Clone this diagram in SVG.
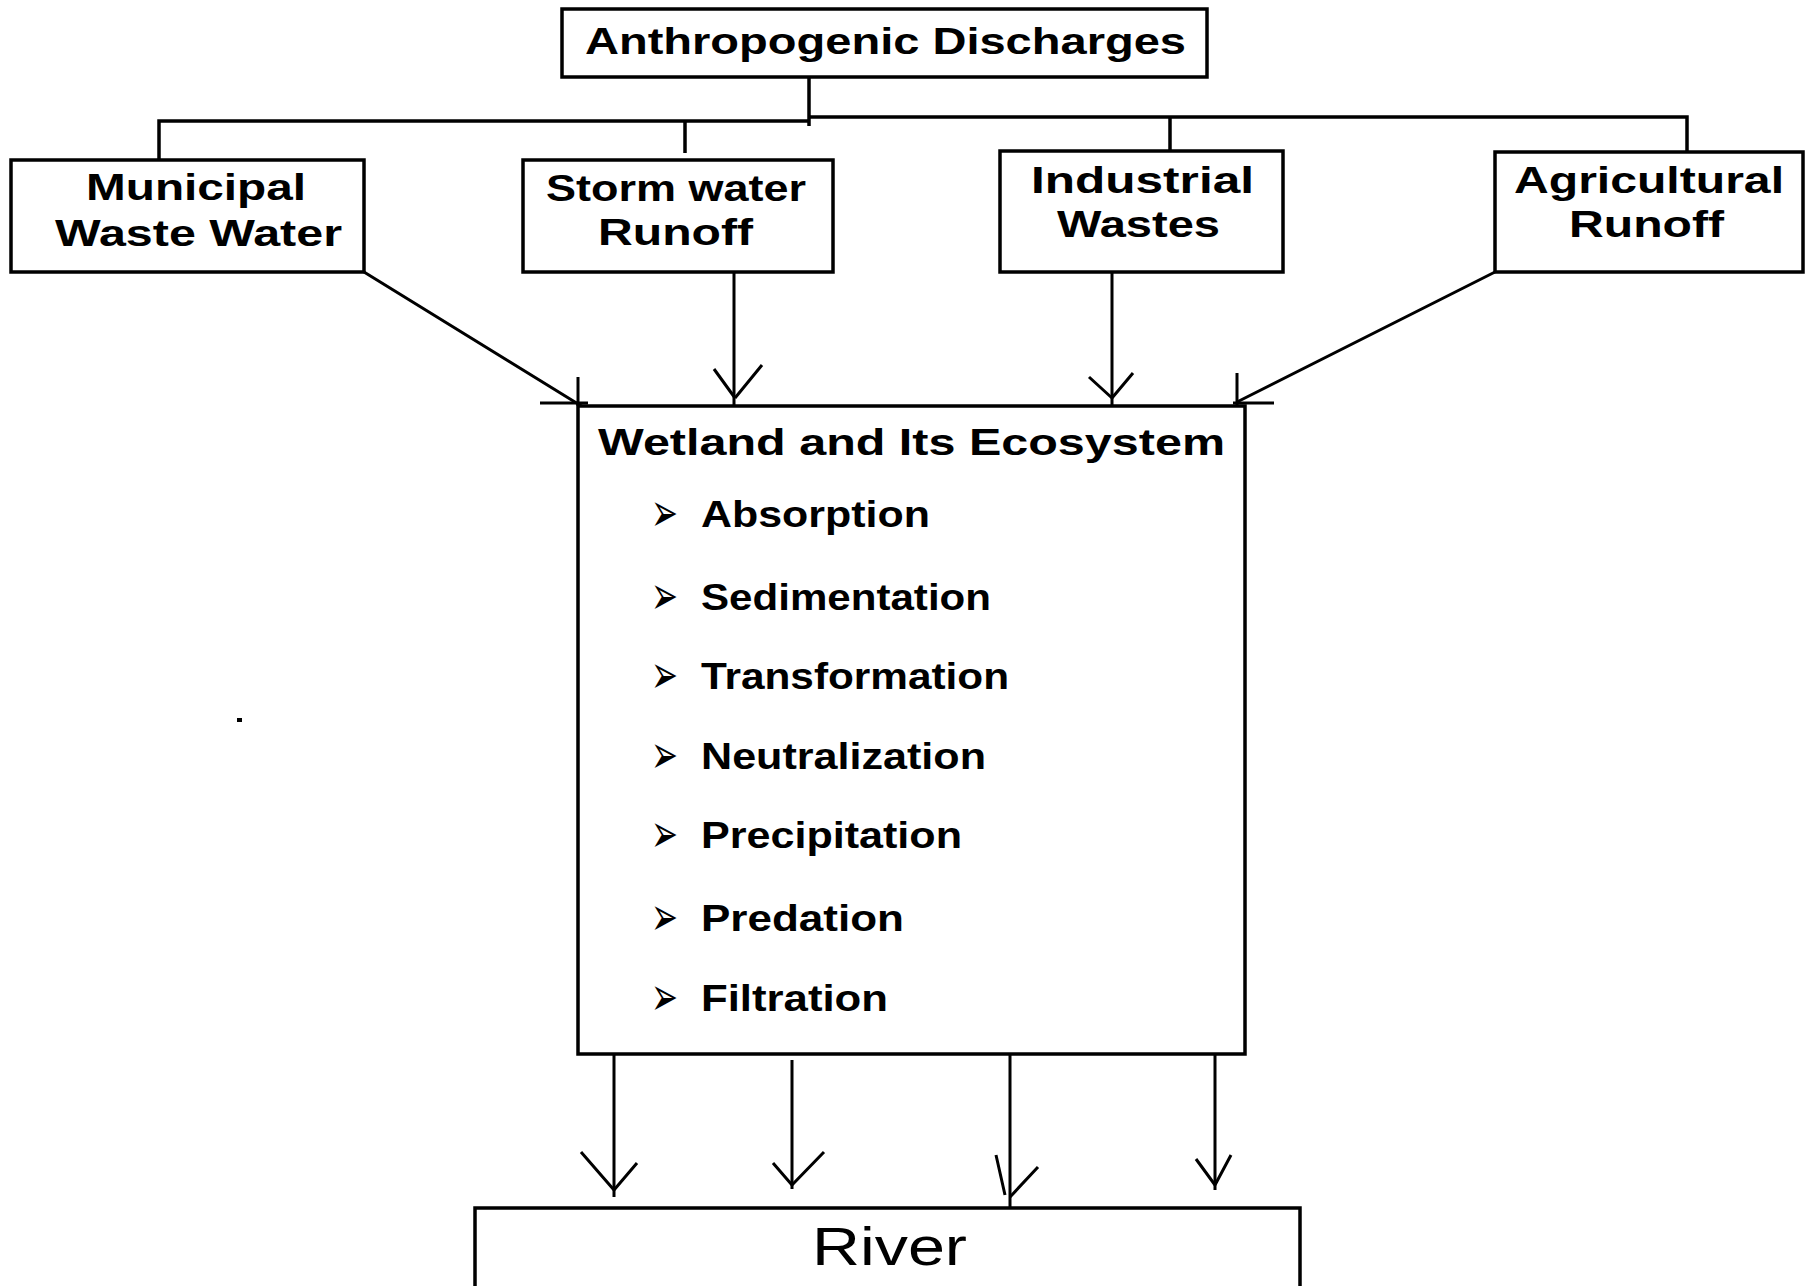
<svg xmlns="http://www.w3.org/2000/svg" width="1812" height="1286" viewBox="0 0 1812 1286">
<style>
.box{fill:#fff;stroke:#000;stroke-width:3.5}
.lbl{font-family:"Liberation Sans",Arial,sans-serif;font-weight:bold;font-size:36px;fill:#000}
.item{font-family:"Liberation Sans",Arial,sans-serif;font-weight:bold;font-size:36px;fill:#000}
.bul{font-family:"DejaVu Sans",sans-serif;font-size:54px;fill:#000}
.riv{font-family:"Liberation Sans",Arial,sans-serif;font-size:54px;fill:#000}
.ln{fill:none;stroke:#000;stroke-width:3.5}
.ar{fill:none;stroke:#000;stroke-width:3}
.hd{fill:none;stroke:#000;stroke-width:3}
</style>
<rect width="1812" height="1286" fill="#fff"/>
<g id="connectors">
<path class="ln" d="M809,77V126M159,160V121H809M685,121V153M809,117H1687V157M1170,117V151"/>
<path class="ar" d="M364,272L583,407M734,272V405M1112,267V405M1495,272L1237,402"/>
<path class="hd" d="M540,403H588M578,377V406M714,369L735,398M762,365L735,398M1089,377L1112,398M1133,373L1112,398M1237,373V412M1233,403H1274"/>
<path class="ar" d="M614,1054V1197M792,1060V1189M1010,1054V1207M1215,1054V1190"/>
<path class="hd" d="M581,1152L614,1190M637,1163L614,1190M773,1163L792,1185M824,1152L792,1185M996,1155L1005,1195M1038,1167L1010,1197M1196,1159L1215,1185M1231,1155L1215,1185"/>
</g>
<g id="anthropogenic">
<rect class="box" x="562" y="9" width="645" height="68"/>
<text class="lbl" x="585" y="54" textLength="601" lengthAdjust="spacingAndGlyphs">Anthropogenic Discharges</text>
</g>
<g id="municipal">
<rect class="box" x="11" y="160" width="353" height="112"/>
<text class="lbl" x="86" y="200" textLength="220" lengthAdjust="spacingAndGlyphs">Municipal</text>
<text class="lbl" x="55" y="246" textLength="287" lengthAdjust="spacingAndGlyphs">Waste Water</text>
</g>
<g id="stormwater">
<rect class="box" x="523" y="160" width="310" height="112"/>
<text class="lbl" x="546" y="201" textLength="260" lengthAdjust="spacingAndGlyphs">Storm water</text>
<text class="lbl" x="598" y="245" textLength="155" lengthAdjust="spacingAndGlyphs">Runoff</text>
</g>
<g id="industrial">
<rect class="box" x="1000" y="151" width="283" height="121"/>
<text class="lbl" x="1031" y="193" textLength="223" lengthAdjust="spacingAndGlyphs">Industrial</text>
<text class="lbl" x="1057" y="237" textLength="163" lengthAdjust="spacingAndGlyphs">Wastes</text>
</g>
<g id="agricultural">
<rect class="box" x="1495" y="152" width="308" height="120"/>
<text class="lbl" x="1514" y="193" textLength="270" lengthAdjust="spacingAndGlyphs">Agricultural</text>
<text class="lbl" x="1569" y="237" textLength="155" lengthAdjust="spacingAndGlyphs">Runoff</text>
</g>
<g id="wetland">
<rect class="box" x="578" y="406" width="667" height="648"/>
<text class="lbl" x="598" y="455" textLength="627" lengthAdjust="spacingAndGlyphs">Wetland and Its Ecosystem</text>
<text class="bul" x="651" y="531" textLength="27" lengthAdjust="spacingAndGlyphs">➢</text>
<text class="item" x="701" y="527" textLength="229" lengthAdjust="spacingAndGlyphs">Absorption</text>
<text class="bul" x="651" y="614" textLength="27" lengthAdjust="spacingAndGlyphs">➢</text>
<text class="item" x="701" y="610" textLength="290" lengthAdjust="spacingAndGlyphs">Sedimentation</text>
<text class="bul" x="651" y="693" textLength="27" lengthAdjust="spacingAndGlyphs">➢</text>
<text class="item" x="701" y="689" textLength="308" lengthAdjust="spacingAndGlyphs">Transformation</text>
<text class="bul" x="651" y="773" textLength="27" lengthAdjust="spacingAndGlyphs">➢</text>
<text class="item" x="701" y="769" textLength="285" lengthAdjust="spacingAndGlyphs">Neutralization</text>
<text class="bul" x="651" y="852" textLength="27" lengthAdjust="spacingAndGlyphs">➢</text>
<text class="item" x="701" y="848" textLength="261" lengthAdjust="spacingAndGlyphs">Precipitation</text>
<text class="bul" x="651" y="935" textLength="27" lengthAdjust="spacingAndGlyphs">➢</text>
<text class="item" x="701" y="931" textLength="203" lengthAdjust="spacingAndGlyphs">Predation</text>
<text class="bul" x="651" y="1015" textLength="27" lengthAdjust="spacingAndGlyphs">➢</text>
<text class="item" x="701" y="1011" textLength="187" lengthAdjust="spacingAndGlyphs">Filtration</text>
</g>
<g id="river">
<rect class="box" x="475" y="1208" width="825" height="100"/>
<text class="riv" x="812" y="1265" textLength="155" lengthAdjust="spacingAndGlyphs">River</text>
</g>
<rect x="237" y="718" width="5" height="4" fill="#000"/>
</svg>
